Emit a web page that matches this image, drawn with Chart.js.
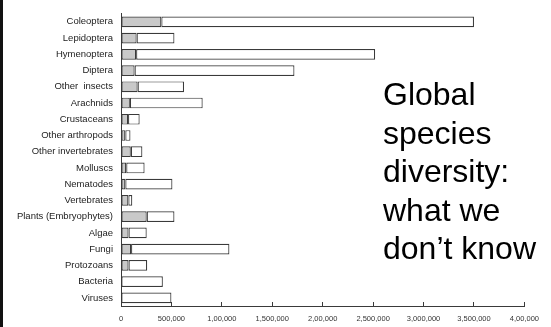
<!DOCTYPE html>
<html>
<head>
<meta charset="utf-8">
<script src="https://cdn.jsdelivr.net/npm/chart.js@4/dist/chart.umd.min.js"></script>
<style>
  html, body { margin: 0; padding: 0; background: #fff; }
  #wrap { position: relative; width: 551px; height: 327px; overflow: hidden; }
  #edge { position: absolute; left: 0; top: 0; width: 3px; height: 327px; background: #111; }
  #note {
    position: absolute; left: 383px; top: 75px;
    font-family: "Liberation Sans", Arial, sans-serif;
    font-size: 32px; line-height: 38.5px; color: #000;
  }
</style>
</head>
<body>
<div id="wrap">
  <canvas id="chart" width="551" height="327"></canvas>
  <div id="edge"></div>
  <div id="note">Global<br>species<br>diversity:<br>what we<br>don’t know</div>
</div>
<script>
var groups = ['Coleoptera', 'Lepidoptera', 'Hymenoptera', 'Diptera', 'Other  insects',
    'Arachnids', 'Crustaceans', 'Other arthropods', 'Other invertebrates', 'Molluscs',
    'Nematodes', 'Vertebrates', 'Plants (Embryophytes)', 'Algae', 'Fungi',
    'Protozoans', 'Bacteria', 'Viruses'];

// described species (grey part of each bar)
var known = [400000, 155000, 150000, 135000, 165000, 88000, 70000, 43000, 97000,
    52000, 43000, 73000, 255000, 75000, 100000, 75000, 4000, 4000];

// estimated total species (end of each bar)
var estimated = [3500000, 530000, 2520000, 1720000, 625000, 810000, 185000, 94000, 212000,
    234000, 510000, 112000, 530000, 255000, 1075000, 260000, 415000, 500000];

var tickLabels = ['0', '500,000', '1,00,000', '1,500,000', '2,00,000', '2,500,000',
    '3,000,000', '3,500,000', '4,00,000'];

var unknown = estimated.map(function(t, i) {
    return t - known[i];
});

var lineCol = '#3a3a3a';
var font = { family: '"Liberation Sans", Arial, sans-serif' };

var ctx = document.getElementById('chart').getContext('2d');
var config = {
    type: 'bar',
    data: {
        labels: groups,
        datasets: [{
            label: 'Known',
            data: known,
            backgroundColor: '#c9c9c9',
            borderColor: lineCol,
            borderWidth: 1.2,
            borderSkipped: false
        }, {
            label: 'Estimated',
            data: unknown,
            backgroundColor: '#ffffff',
            borderColor: lineCol,
            borderWidth: 1.2,
            borderSkipped: false
        }]
    },
    options: {
        indexAxis: 'y',
        responsive: false,
        animation: false,
        events: [],
        datasets: {
            bar: { categoryPercentage: 1, barPercentage: 0.66 }
        },
        layout: { padding: { left: 0, right: 25, top: 7, bottom: 0 } },
        plugins: {
            legend: { display: false },
            tooltip: { enabled: false }
        },
        scales: {
            x: {
                stacked: true,
                min: 0,
                max: 4000000,
                afterFit: function(scale) { scale.height = 21; },
                border: { color: lineCol, width: 1 },
                grid: { drawOnChartArea: false, tickLength: -4, color: lineCol },
                ticks: {
                    stepSize: 500000,
                    padding: 12,
                    maxRotation: 0,
                    autoSkip: false,
                    color: '#333',
                    font: { family: font.family, size: 7.5 },
                    callback: function(v, i) { return tickLabels[i]; }
                }
            },
            y: {
                stacked: true,
                afterFit: function(scale) { scale.width = 121; },
                border: { color: lineCol, width: 1 },
                grid: { display: false, drawTicks: false },
                ticks: {
                    padding: 8,
                    autoSkip: false,
                    color: '#222',
                    font: { family: font.family, size: 9.5 }
                }
            }
        }
    }
};

var chart = new Chart(ctx, config);
</script>
</body>
</html>
